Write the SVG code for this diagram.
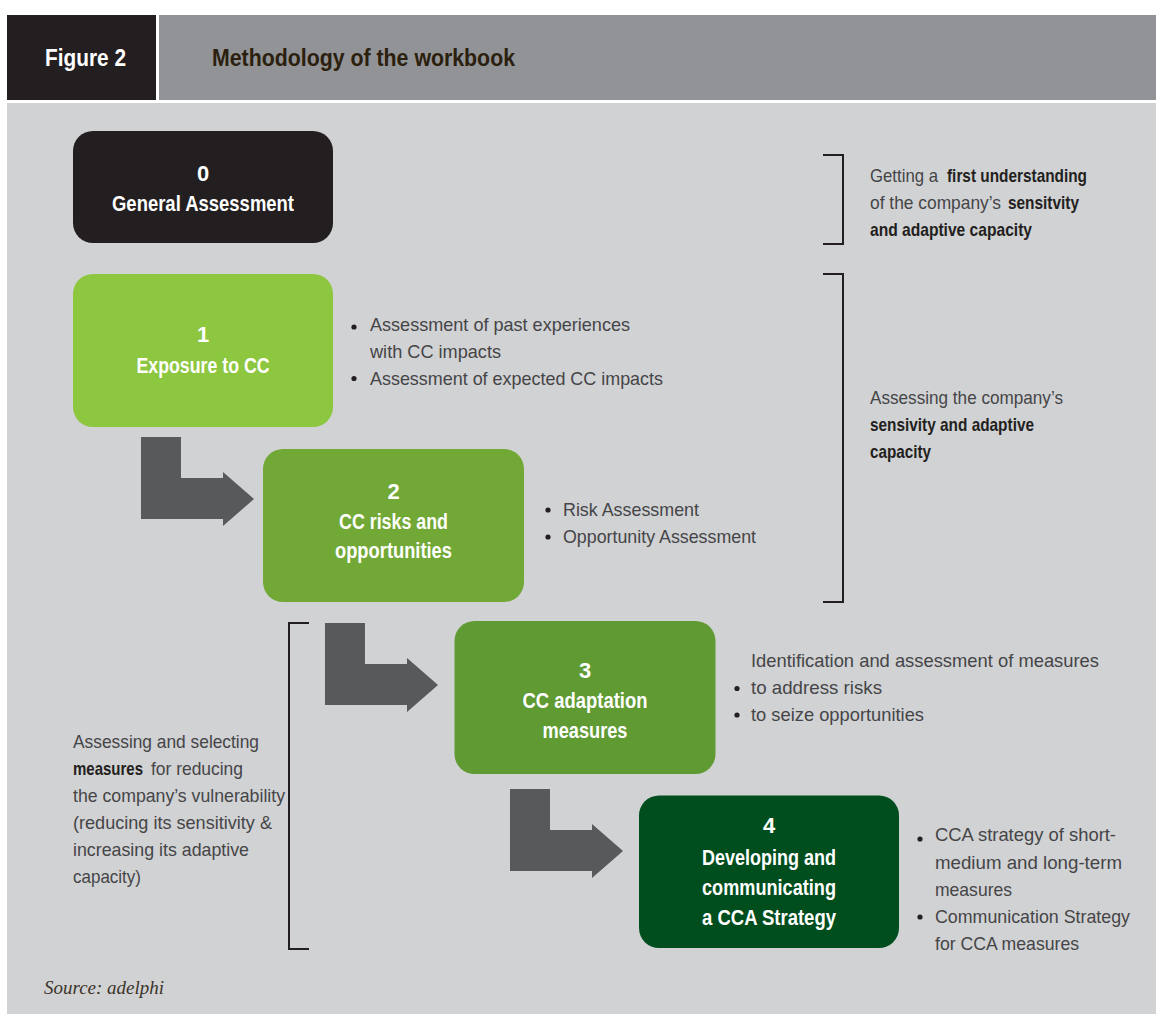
<svg xmlns="http://www.w3.org/2000/svg" width="1156" height="1014" viewBox="0 0 1156 1014">
<style>
.nl{font-family:"Liberation Sans",Arial,sans-serif;font-weight:bold;font-size:22px;fill:#ffffff;text-anchor:middle}
.tx{font-family:"Liberation Sans",Arial,sans-serif;font-size:18.5px;fill:#454547}
.b{font-weight:bold;fill:#231f20}
.br{fill:none;stroke:#231f20;stroke-width:2}
.dot{fill:#231f20}
.arr{fill:#58595b}
</style>
<defs>
<polygon id="larrow" points="0,0 40,0 40,41 82,41 82,35 113,62 82,89 82,82 0,82"/>
</defs>
<rect x="0" y="0" width="1156" height="1014" fill="#ffffff"/>
<g id="header">
<rect x="7" y="15" width="149" height="85" fill="#231f20"/>
<rect x="159" y="15" width="997" height="85" fill="#929396"/>
<text x="45" y="66" font-family="Liberation Sans,Arial,sans-serif" font-weight="bold" font-size="24" fill="#ffffff" textLength="81" lengthAdjust="spacingAndGlyphs">Figure 2</text>
<text x="212" y="66" font-family="Liberation Sans,Arial,sans-serif" font-weight="bold" font-size="24" fill="#2b200e" textLength="303" lengthAdjust="spacingAndGlyphs">Methodology of the workbook</text>
</g>
<rect id="panel" x="7" y="103" width="1149" height="911" fill="#d1d2d4"/>

<g id="connectors">
<use href="#larrow" class="arr" transform="translate(141,437)"/>
<use href="#larrow" class="arr" transform="translate(325,623)"/>
<use href="#larrow" class="arr" transform="translate(510,789)"/>
</g>

<g id="brackets">
<path class="br" d="M823,155 H843 V244 H823"/>
<path class="br" d="M823,274 H843 V602 H823"/>
<path class="br" d="M309,623 H289 V949 H309"/>
</g>

<g id="node0">
<rect x="73" y="131" width="260" height="112" rx="20" fill="#231f20"/>
<text class="nl" x="203" y="181">0</text>
<text class="nl" x="203" y="210.5" textLength="182" lengthAdjust="spacingAndGlyphs">General Assessment</text>
</g>
<g id="node1">
<rect x="73" y="274" width="260" height="153" rx="20" fill="#8dc63f"/>
<text class="nl" x="203" y="342">1</text>
<text class="nl" x="203" y="373" textLength="133" lengthAdjust="spacingAndGlyphs">Exposure to CC</text>
</g>
<g id="node2">
<rect x="263" y="449" width="261" height="153" rx="20" fill="#72a835"/>
<text class="nl" x="393.5" y="498.5">2</text>
<text class="nl" x="393.5" y="528.5" textLength="109" lengthAdjust="spacingAndGlyphs">CC risks and</text>
<text class="nl" x="393.5" y="558" textLength="117" lengthAdjust="spacingAndGlyphs">opportunities</text>
</g>
<g id="node3">
<rect x="454.5" y="621" width="261" height="153" rx="20" fill="#5f9a33"/>
<text class="nl" x="585" y="678">3</text>
<text class="nl" x="585" y="707.5" textLength="125" lengthAdjust="spacingAndGlyphs">CC adaptation</text>
<text class="nl" x="585" y="737.5" textLength="85" lengthAdjust="spacingAndGlyphs">measures</text>
</g>
<g id="node4">
<rect x="639" y="795.5" width="260" height="152.5" rx="20" fill="#004d1e"/>
<text class="nl" x="769" y="833">4</text>
<text class="nl" x="769" y="865" textLength="134" lengthAdjust="spacingAndGlyphs">Developing and</text>
<text class="nl" x="769" y="895" textLength="134" lengthAdjust="spacingAndGlyphs">communicating</text>
<text class="nl" x="769" y="925" textLength="134" lengthAdjust="spacingAndGlyphs">a CCA Strategy</text>
</g>

<g id="note-general">
<text class="tx" x="870" y="181.5" textLength="68" lengthAdjust="spacingAndGlyphs">Getting a</text>
<text class="tx b" x="947" y="181.5" textLength="140" lengthAdjust="spacingAndGlyphs">first understanding</text>
<text class="tx" x="870" y="208.5" textLength="131" lengthAdjust="spacingAndGlyphs">of the company’s</text>
<text class="tx b" x="1008" y="208.5" textLength="71" lengthAdjust="spacingAndGlyphs">sensitvity</text>
<text class="tx b" x="870" y="235.5" textLength="162" lengthAdjust="spacingAndGlyphs">and adaptive capacity</text>
</g>
<g id="note-sensitivity">
<text class="tx" x="870" y="404" textLength="193" lengthAdjust="spacingAndGlyphs">Assessing the company’s</text>
<text class="tx b" x="870" y="431" textLength="164" lengthAdjust="spacingAndGlyphs">sensivity and adaptive</text>
<text class="tx b" x="870" y="458" textLength="61" lengthAdjust="spacingAndGlyphs">capacity</text>
</g>
<g id="note-exposure">
<circle class="dot" cx="354" cy="327" r="2.6"/>
<circle class="dot" cx="354" cy="378.5" r="2.6"/>
<text class="tx" x="370" y="331" textLength="260" lengthAdjust="spacingAndGlyphs">Assessment of past experiences</text>
<text class="tx" x="370" y="358" textLength="131" lengthAdjust="spacingAndGlyphs">with CC impacts</text>
<text class="tx" x="370" y="385" textLength="293" lengthAdjust="spacingAndGlyphs">Assessment of expected CC impacts</text>
</g>
<g id="note-risks">
<circle class="dot" cx="548" cy="510" r="2.6"/>
<circle class="dot" cx="548" cy="537" r="2.6"/>
<text class="tx" x="563" y="516" textLength="136" lengthAdjust="spacingAndGlyphs">Risk Assessment</text>
<text class="tx" x="563" y="543" textLength="193" lengthAdjust="spacingAndGlyphs">Opportunity Assessment</text>
</g>
<g id="note-measures">
<circle class="dot" cx="737" cy="688.5" r="2.6"/>
<circle class="dot" cx="737" cy="715" r="2.6"/>
<text class="tx" x="751" y="667" textLength="348" lengthAdjust="spacingAndGlyphs">Identification and assessment of measures</text>
<text class="tx" x="751" y="694" textLength="131" lengthAdjust="spacingAndGlyphs">to address risks</text>
<text class="tx" x="751" y="721" textLength="173" lengthAdjust="spacingAndGlyphs">to seize opportunities</text>
</g>
<g id="note-strategy">
<circle class="dot" cx="920" cy="839" r="2.6"/>
<circle class="dot" cx="920" cy="917" r="2.6"/>
<text class="tx" x="935" y="841" textLength="181" lengthAdjust="spacingAndGlyphs">CCA strategy of short-</text>
<text class="tx" x="935" y="869" textLength="187" lengthAdjust="spacingAndGlyphs">medium and long-term</text>
<text class="tx" x="935" y="896" textLength="77" lengthAdjust="spacingAndGlyphs">measures</text>
<text class="tx" x="935" y="923" textLength="195" lengthAdjust="spacingAndGlyphs">Communication Strategy</text>
<text class="tx" x="935" y="950" textLength="144" lengthAdjust="spacingAndGlyphs">for CCA measures</text>
</g>
<g id="note-selecting">
<text class="tx" x="73" y="748" textLength="186" lengthAdjust="spacingAndGlyphs">Assessing and selecting</text>
<text class="tx b" x="73" y="775" textLength="70" lengthAdjust="spacingAndGlyphs">measures</text>
<text class="tx" x="151" y="775" textLength="92" lengthAdjust="spacingAndGlyphs">for reducing</text>
<text class="tx" x="73" y="802" textLength="212" lengthAdjust="spacingAndGlyphs">the company’s vulnerability</text>
<text class="tx" x="73" y="829" textLength="199" lengthAdjust="spacingAndGlyphs">(reducing its sensitivity &amp;</text>
<text class="tx" x="73" y="856" textLength="176" lengthAdjust="spacingAndGlyphs">increasing its adaptive</text>
<text class="tx" x="73" y="883" textLength="68" lengthAdjust="spacingAndGlyphs">capacity)</text>
</g>
<text id="source" x="44" y="994" font-family="Liberation Serif,Times New Roman,serif" font-style="italic" font-size="19" fill="#3c3429" textLength="120" lengthAdjust="spacingAndGlyphs">Source: adelphi</text>
</svg>
